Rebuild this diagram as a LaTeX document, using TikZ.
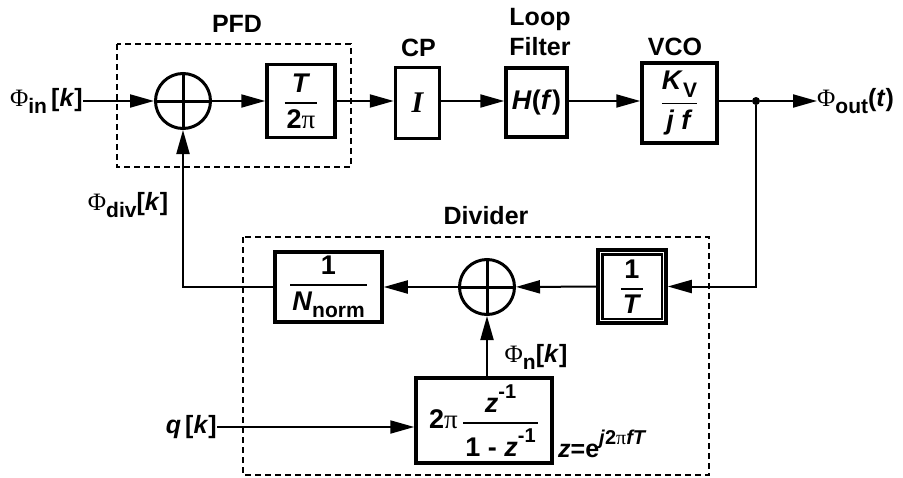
\documentclass[tikz,border=0pt]{standalone}
\usepackage{amsmath}
\usepackage{fontspec}
\setmainfont{Liberation Sans}
\newfontfamily\serf{Liberation Serif}
\usetikzlibrary{arrows.meta}
\newcommand\Phig{{\serf\mdseries\upshape Φ}}
\newcommand\pig{{\serf\mdseries\upshape π}}
\newcommand\sbs[1]{\raisebox{-0.28em}{\fontsize{21}{21}\selectfont #1}}
\newcommand\sps[1]{\raisebox{0.5em}{\fontsize{20}{20}\selectfont #1}}
\newcommand\bfr[2]{$\genfrac{}{}{1.8pt}{0}{\mbox{#1}}{\mbox{\kern2pt#2\kern2pt}}$}
\tikzset{
  every node/.style={font=\fontsize{25}{30}\selectfont\bfseries, inner sep=0pt},
  blk/.style={draw, line width=3.5pt, font=\fontsize{27}{32}\selectfont\bfseries},
  sumc/.style={circle, draw, line width=3pt, minimum size=55pt},
  ln/.style={line width=2pt},
  arr/.style={line width=2pt, -{Triangle[length=24pt,width=13pt]}},
  dsh/.style={line width=2pt, dash pattern=on 6pt off 4pt},
}
\begin{document}
\begin{tikzpicture}[x=1pt,y=-1pt]
\useasboundingbox (0,0) rectangle (903,477);
% dashed groups
\draw[dsh] (117,44) rectangle (351,167);
\draw[dsh] (243,237) rectangle (709,475);
\node (pfdl) at (237,24) {PFD};
\node (divl) at (486,216) {Divider};
% forward path
\node[anchor=east] (in) at (83,101) {\Phig\sbs{in}\,[\textit{k}]};
\node[sumc] (s1) at (183,101) {};
\draw[line width=3pt] ([xshift=3pt]s1.west) -- ([xshift=-3pt]s1.east)
  ([yshift=-3pt]s1.north) -- ([yshift=3pt]s1.south);
\node[blk, minimum width=68pt, minimum height=73pt] (tb) at (301,101) {\bfr{\textit{T}}{2\pig}};
\node[blk, minimum width=44pt, minimum height=71pt] (cp) at (417.5,103) {{\serf\fontsize{30}{30}\selectfont\bfseries\itshape I}};
\node (cpl) at (418.5,48) {CP};
\node[blk, minimum width=61pt, minimum height=69pt] (lf) at (536.5,102.5) {\textit{H}(\textit{f})};
\node[align=center] (lfl) at (540,32) {Loop\\Filter};
\node[blk, minimum width=75pt, minimum height=80pt] (vco) at (679.5,103) {\bfr{\textit{K}\sbs{V}}{\textit{j f}}};
\node (vcol) at (675,47) {VCO};
\node[circle, fill, minimum size=8pt] (dot) at (756,101) {};
\node[anchor=west] (out) at (817,101) {\Phig\sbs{out}(\textit{t})};
\draw[arr] (in) -- (s1);
\draw[arr] (s1) -- (tb);
\draw[arr] (tb.east) -- (tb.east -| cp.west);
\draw[arr] (cp.east |- tb.east) -- (cp.east |- tb.east -| lf.west);
\draw[arr] (lf.east |- tb.east) -- (lf.east |- tb.east -| vco.west);
\draw[ln] (vco.east |- dot) -- (dot);
\draw[arr] (dot) -- (out);
% divider
\node[blk, minimum width=68pt, minimum height=73pt] (inv) at (632,286.5) {\bfr{1}{\textit{T}}};
\draw[line width=2.5pt] ([shift={(6pt,-6pt)}]inv.north west) rectangle ([shift={(-6pt,6pt)}]inv.south east);
\node[sumc] (s2) at (487,287) {};
\draw[line width=3pt] ([xshift=3pt]s2.west) -- ([xshift=-3pt]s2.east)
  ([yshift=-3pt]s2.north) -- ([yshift=3pt]s2.south);
\node[blk, minimum width=107pt, minimum height=70pt] (nn) at (328.5,287) {\bfr{1}{\textit{N}\sbs{norm}}};
\node[blk, minimum width=136pt, minimum height=85pt] (zb) at (484,420.5)
  {2\pig\,\bfr{\textit{z}\sps{-1}}{1 - \textit{z}\sps{-1}}};
\node[anchor=east] (q) at (217,427) {\textit{q}\,[\textit{k}]};
\node[anchor=north west] (zeq) at (558,430) {\textit{z}=e\sps{\textit{j}2\pig\textit{fT}}};
\node (phin) at (536,357) {\Phig\sbs{n}[\textit{k}]};
\node (phidiv) at (128,205) {\Phig\sbs{div}[\textit{k}]};
\draw[arr] (dot) |- (inv);
\draw[arr] (inv) -- (s2);
\draw[arr] (s2) -- (nn);
\draw[arr] (nn.west) -| (s1.south);
\draw[arr] (s2 |- zb.north) -- (s2.south);
\draw[arr] (q.east) -- (q.east -| zb.west);
\end{tikzpicture}
\end{document}
